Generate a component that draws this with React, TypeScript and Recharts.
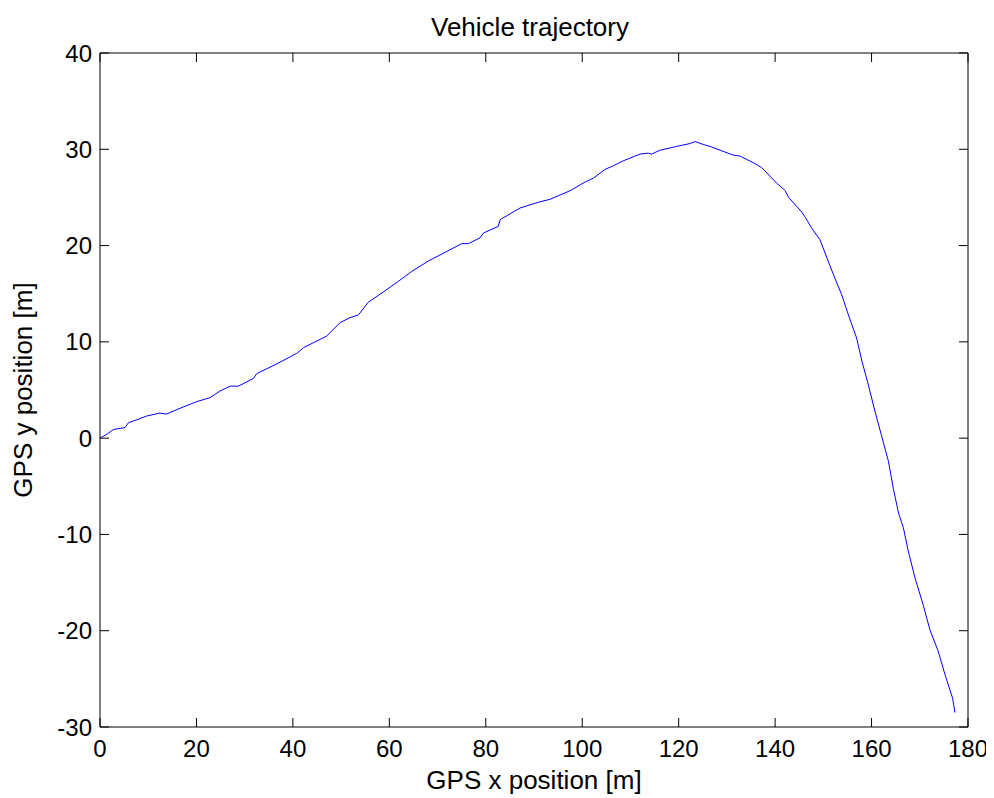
import { LineChart, Line, XAxis, YAxis } from "recharts";

// GPS track, metres
const trackX = [
  0, 1.4, 2.8, 5.2, 5.9, 7.6, 9.7, 12.4, 13.8, 16.6, 20.1, 22.8, 24.9, 27, 28.7, 31.8, 32.5, 36.6, 40.8, 42.2,
  47, 49.8, 51.8, 53.6, 55.6, 59.1, 61.9, 64.6, 68.1, 71.2, 75, 76.4, 78.8, 79.5, 82.6, 83, 87.1, 90.9, 93.3,
  97.5, 100.6, 102.3, 104.7, 106.5, 108.5, 112, 113.7, 114.4, 116.1, 119.6, 122.4, 123.4, 125.1, 126.5, 128.6,
  131.3, 132.7, 135.5, 137.2, 140.3, 142.1, 142.8, 145.5, 146.3, 147.6, 149.3, 151, 152.4, 153.8, 155.2, 156.9,
  158, 159.3, 160.7, 162.1, 163.5, 164.5, 165.6, 166.6, 167.6, 169, 170.7, 172.1, 173.8, 175.2, 176.8, 177.3,
];
const trackY = [
  0, 0.4, 0.9, 1.1, 1.6, 1.9, 2.3, 2.6, 2.5, 3.1, 3.8, 4.2, 4.9, 5.4, 5.4, 6.2, 6.7, 7.7, 8.8, 9.4,
  10.6, 12, 12.5, 12.8, 14.1, 15.3, 16.3, 17.3, 18.4, 19.2, 20.2, 20.2, 20.8, 21.3, 22, 22.7, 23.9, 24.5, 24.8,
  25.7, 26.6, 27.0, 27.9, 28.3, 28.8, 29.5, 29.6, 29.5, 29.9, 30.3, 30.6, 30.8, 30.5, 30.3, 29.9,
  29.4, 29.3, 28.6, 28.1, 26.5, 25.7, 25.0, 23.5, 22.9, 21.8, 20.6, 18.4, 16.6, 14.9, 12.8, 10.4,
  8, 5.6, 2.8, 0.2, -2.4, -5.2, -7.8, -9.3, -11.7, -14.5, -17.3, -19.9, -22.1, -24.5, -27, -28.5,
];

const xTicks = [0, 20, 40, 60, 80, 100, 120, 140, 160, 180];
const yTicks = [-30, -20, -10, 0, 10, 20, 30, 40];

const data = trackX.map((x, i) => ({ x, y: trackY[i] }));

const FONT = "'Liberation Sans', Arial, sans-serif";
const TICK_LEN = 9;
const FS = 26; // title and axis labels
const TICK_FS = 24;
// recharts offsets the tick props by tickSize + tickMargin; undo that to find the axis line
const T_SIZE = 6;
const T_MARGIN = 2;
const OFF = T_SIZE + T_MARGIN;

function BottomTick(props: any) {
  const { x, y, payload } = props;
  const ay = y - OFF;
  return (
    <g>
      <line x1={x} y1={ay} x2={x} y2={ay - TICK_LEN} stroke="#000" />
      <text x={x} y={ay + 30} textAnchor="middle" fontSize={TICK_FS} fontFamily={FONT} fill="#000">
        {payload.value}
      </text>
    </g>
  );
}

function LeftTick(props: any) {
  const { x, y, payload } = props;
  const ax = x + OFF;
  return (
    <g>
      <line x1={ax} y1={y} x2={ax + TICK_LEN} y2={y} stroke="#000" />
      <text x={ax - 8} y={y + 8.5} textAnchor="end" fontSize={TICK_FS} fontFamily={FONT} fill="#000">
        {payload.value}
      </text>
    </g>
  );
}

function TopTick(props: any) {
  const { x, y } = props;
  const ay = y + OFF;
  return <line x1={x} y1={ay} x2={x} y2={ay + TICK_LEN} stroke="#000" />;
}

function RightTick(props: any) {
  const { x, y } = props;
  const ax = x - OFF;
  return <line x1={ax} y1={y} x2={ax - TICK_LEN} y2={y} stroke="#000" />;
}

export default function App() {
  // pulled over the body margin so the figure spans the whole window
  return (
    <div style={{ position: "relative", width: 994, height: 798, margin: "-8px 0 0 -8px" }}>
      <div
        style={{
          position: "absolute",
          left: 96,
          width: 868,
          top: 12,
          textAlign: "center",
          fontFamily: FONT,
          fontSize: FS,
          lineHeight: "normal",
          color: "#000",
        }}
      >
        Vehicle trajectory
      </div>
      <LineChart width={994} height={798} data={data} margin={{ top: 52, right: 25, left: 0, bottom: 0 }}>
        <XAxis
          dataKey="x"
          type="number"
          domain={[0, 180]}
          ticks={xTicks}
          interval={0}
          allowDataOverflow
          height={71}
          tickLine={false}
          tickSize={T_SIZE}
          tickMargin={T_MARGIN}
          stroke="#000"
          tick={BottomTick}
          label={{
            content: (p: any) => {
              const vb = p.viewBox;
              return (
                <text x={vb.x + vb.width / 2} y={vb.y + 62} textAnchor="middle" fontSize={FS} fontFamily={FONT} fill="#000">
                  GPS x position [m]
                </text>
              );
            },
          }}
        />
        <XAxis
          xAxisId="top"
          orientation="top"
          dataKey="x"
          type="number"
          domain={[0, 180]}
          ticks={xTicks}
          interval={0}
          allowDataOverflow
          height={1}
          tickLine={false}
          tickSize={T_SIZE}
          tickMargin={T_MARGIN}
          stroke="#000"
          tick={TopTick}
        />
        <YAxis
          type="number"
          domain={[-30, 40]}
          ticks={yTicks}
          interval={0}
          allowDataOverflow
          width={100}
          tickLine={false}
          tickSize={T_SIZE}
          tickMargin={T_MARGIN}
          stroke="#000"
          tick={LeftTick}
          label={{
            content: (p: any) => {
              const vb = p.viewBox;
              const cx = vb.x + 32;
              const cy = vb.y + vb.height / 2;
              return (
                <text
                  x={cx}
                  y={cy}
                  transform={`rotate(-90 ${cx} ${cy})`}
                  textAnchor="middle"
                  fontSize={FS}
                  fontFamily={FONT}
                  fill="#000"
                >
                  GPS y position [m]
                </text>
              );
            },
          }}
        />
        <YAxis
          yAxisId="right"
          orientation="right"
          type="number"
          domain={[-30, 40]}
          ticks={yTicks}
          interval={0}
          allowDataOverflow
          width={1}
          tickLine={false}
          tickSize={T_SIZE}
          tickMargin={T_MARGIN}
          stroke="#000"
          tick={RightTick}
        />
        <Line
          dataKey="y"
          type="linear"
          stroke="#0000ff"
          strokeWidth={1}
          dot={false}
          isAnimationActive={false}
        />
      </LineChart>
    </div>
  );
}
